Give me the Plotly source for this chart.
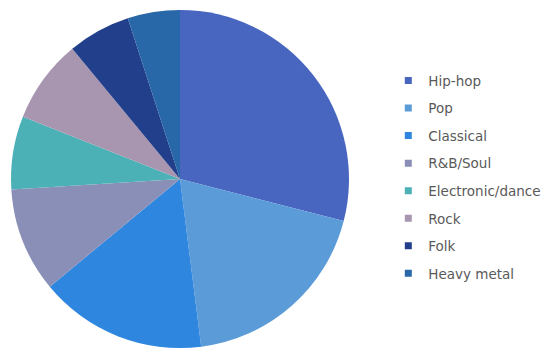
import plotly.graph_objects as go

genres = ["Hip-hop", "Pop", "Classical", "R&B/Soul", "Electronic/dance", "Rock", "Folk", "Heavy metal"]
shares = [29, 19, 16, 10, 7, 8, 6, 5]
colors = ["#4866c0", "#5b9bd8", "#2e86de", "#8a8fb8", "#4cb1b6", "#a896b0", "#213f8a", "#2868a8"]

W, H = 556, 349
fig = go.Figure()
fig.add_trace(go.Pie(
    labels=genres, values=shares, sort=False, direction="clockwise", rotation=0,
    marker=dict(colors=colors, line=dict(width=0)),
    textinfo="none", hoverinfo="label+percent", showlegend=False,
    domain=dict(x=[3/W, 341/W], y=[1 - 340/H, 1 - 2/H]),
))
for g, c in zip(genres, colors):
    fig.add_trace(go.Scatter(
        x=[None], y=[None], mode="markers", name=g, legendgroup=g,
        marker=dict(symbol="square", size=7, color=c),
    ))

fig.update_layout(
    width=W, height=H,
    margin=dict(l=0, r=0, t=0, b=0),
    paper_bgcolor="white", plot_bgcolor="white",
    xaxis=dict(visible=False), yaxis=dict(visible=False),
    showlegend=True,
    legend=dict(x=0.684, y=0.836, xanchor="left", yanchor="top",
                font=dict(family="DejaVu Sans", size=13.5, color="#595959"),
                tracegroupgap=7, bgcolor="rgba(0,0,0,0)"),
)
fig.write_html("out.html")
